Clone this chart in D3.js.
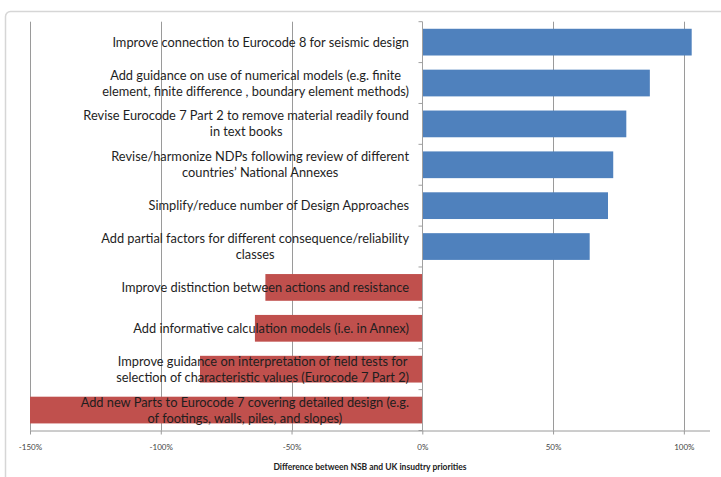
<!DOCTYPE html>
<html>
<head>
<meta charset="utf-8">
<script src="https://cdn.jsdelivr.net/npm/d3@7"></script>
<style>
  html, body { margin: 0; padding: 0; background: #fff; }
  svg { display: block; }
</style>
</head>
<body>
<svg id="chart" width="721" height="477"></svg>
<script>
// ---- data ----
const categories = [
  "Improve connection to Eurocode 8 for seismic design",
  "Add guidance on use of numerical models (e.g. finite\nelement, finite difference , boundary element methods)",
  "Revise Eurocode 7 Part 2 to remove material readily found\nin text books",
  "Revise/harmonize NDPs following review of different\ncountries’ National Annexes",
  "Simplify/reduce number of Design Approaches",
  "Add partial factors for different consequence/reliability\nclasses",
  "Improve distinction between actions and resistance",
  "Add informative calculation models (i.e. in Annex)",
  "Improve guidance on interpretation of field tests for\nselection of characteristic values (Eurocode 7 Part 2)",
  "Add new Parts to Eurocode 7 covering detailed design (e.g.\nof footings, walls, piles, and slopes)"
];
const values = [1.03, 0.87, 0.78, 0.73, 0.71, 0.64, -0.60, -0.64, -0.85, -1.50];
const tickValues = [-1.5, -1.0, -0.5, 0, 0.5, 1.0];
const tickLabels = ["-150%", "-100%", "-50%", "0%", "50%", "100%"];
const axisTitle = "Difference between NSB and UK insudtry priorities";

// ---- layout ----
const svg = d3.select("#chart");
const plot = { left: 30, right: 710, top: 21.7, bottom: 430.5 };

// outer frame
svg.append("rect")
  .attr("x", 5.5).attr("y", 11.5)
  .attr("width", 760).attr("height", 520)
  .attr("rx", 5)
  .attr("fill", "none")
  .attr("stroke", "#d6d6d6")
  .attr("stroke-width", 1.5);

const x = d3.scaleLinear().domain([-1.5, 1.1]).range([plot.left, plot.right]);
const y = d3.scaleBand().domain(d3.range(categories.length))
  .range([plot.top, plot.bottom]).paddingInner(0.346).paddingOuter(0.173);

// gridlines
svg.append("g").selectAll("line")
  .data(tickValues.filter(v => v !== 0))
  .join("line")
  .attr("x1", d => Math.round(x(d)) + 0.5).attr("x2", d => Math.round(x(d)) + 0.5)
  .attr("y1", plot.top).attr("y2", plot.bottom)
  .attr("stroke", "#9a9a9a").attr("stroke-width", 1);

// bars
svg.append("g").selectAll("rect")
  .data(values)
  .join("rect")
  .attr("x", d => x(Math.min(0, d)))
  .attr("width", d => Math.abs(x(d) - x(0)))
  .attr("y", (d, i) => y(i))
  .attr("height", y.bandwidth())
  .attr("fill", d => d >= 0 ? "#4f81bd" : "#c0504d");

// vertical category axis at 0
const x0 = Math.round(x(0)) + 0.5;
svg.append("line")
  .attr("x1", x0).attr("x2", x0)
  .attr("y1", plot.top).attr("y2", plot.bottom)
  .attr("stroke", "#a0a0a0").attr("stroke-width", 1);
const step = y.step();
svg.append("g").selectAll("line")
  .data(d3.range(categories.length + 1))
  .join("line")
  .attr("x1", x0 - 4).attr("x2", x0)
  .attr("y1", i => plot.top + i * step).attr("y2", i => plot.top + i * step)
  .attr("stroke", "#a0a0a0");

// x axis
const xAxis = d3.axisBottom(x)
  .tickValues(tickValues)
  .tickFormat((d, i) => tickLabels[i])
  .tickSize(4)
  .tickPadding(10);
const gx = svg.append("g")
  .attr("transform", `translate(0,${plot.bottom})`)
  .call(xAxis);
gx.select(".domain").attr("stroke", "#9a9a9a").attr("d", `M${plot.left},0.5H${plot.right}`);
gx.selectAll(".tick line").attr("stroke", "#9a9a9a");
gx.selectAll(".tick text")
  .attr("font-family", "Lato, 'Open Sans', sans-serif")
  .attr("font-size", 8)
  .attr("fill", "#444");

// axis title
svg.append("text")
  .attr("x", (plot.left + plot.right) / 2)
  .attr("y", 469.5)
  .attr("text-anchor", "middle")
  .attr("font-family", "Lato, 'Open Sans', sans-serif")
  .attr("font-size", 8.5)
  .attr("font-weight", "bold")
  .attr("fill", "#222")
  .text(axisTitle);

// category labels
const labelRight = 409;
const lineH = 16;
const lg = svg.append("g")
  .attr("font-family", "Lato, 'Open Sans', sans-serif")
  .attr("font-size", 12.8)
  .attr("fill", "#1e1e1e");
categories.forEach((c, i) => {
  const lines = c.split("\n");
  const cy = y(i) + y.bandwidth() / 2;
  const t = lg.append("text").attr("text-anchor", "middle");
  const tsp = lines.map((ln, k) => t.append("tspan")
    .attr("y", cy + (k - (lines.length - 1) / 2) * lineH)
    .attr("dy", "0.35em")
    .text(ln));
  const maxW = d3.max(tsp, s => s.node().getComputedTextLength());
  tsp.forEach(s => s.attr("x", labelRight - maxW / 2));
});
</script>
</body>
</html>
